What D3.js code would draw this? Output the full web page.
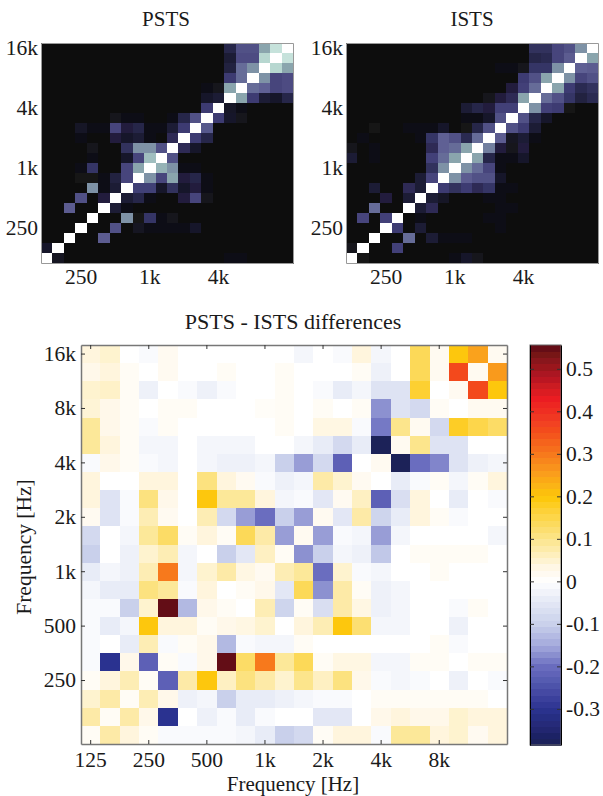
<!DOCTYPE html>
<html lang="en">
<head>
<meta charset="UTF-8">
<title>PSTS - ISTS differences</title>
<style>
    body { margin: 0; background: #fff; overflow: hidden; }
    text { font-family: 'Liberation Serif', serif; fill: #1a1a1a; }
    .axis line { stroke: #333; }
    .axis text { font-family: 'Liberation Serif', serif; font-size: 21.5px; fill: #1a1a1a; }
</style>
</head>
<body>
<svg id="chart" width="603" height="796">
    <defs><filter id="soft" x="-2%" y="-2%" width="104%" height="104%"><feGaussianBlur stdDeviation="0.45"/></filter></defs>
</svg>
<script src="https://d3js.org/d3.v7.min.js"></script>
<script>
// third octave bands, low to high
const bands = ["125","160","200","250","315","400","500","630","800","1k","1.25k","1.6k","2k","2.5k","3.15k","4k","5k","6.3k","8k","10k","12.5k","16k"];
const bandsTopDown = bands.slice().reverse();

const topXTicks = ["250","1k","4k"];
const topYTicks = ["16k","4k","1k","250"];
const diffXTicks = ["125","250","500","1k","2k","4k","8k"];
const diffYTicks = ["16k","8k","4k","2k","1k","500","250"];
const barTicks = [0.5,0.4,0.3,0.2,0.1,0,-0.1,-0.2,-0.3];

// rows run from 16k at the top down to 125 Hz
const pstsValues = [
 [0,0,0,0,0,0,0,0,0,0,0,0,0,0,0,0,.15,.35,.35,.6,.85,1],
 [0,0,0,0,0,0,0,0,0,0,0,0,0,0,0,0,.1,.33,.33,.8,1,.85],
 [0,0,0,0,0,0,0,0,0,0,0,0,0,0,0,0,.13,.45,.55,1,.8,.6],
 [0,0,0,0,0,0,0,0,0,0,0,0,0,0,0,0,.25,.45,1,.55,.3,.33],
 [0,0,0,0,0,0,0,0,0,0,0,0,0,0,.03,.05,.6,1,.45,.42,.3,.33],
 [0,0,0,0,0,0,0,0,0,0,0,0,0,0,.08,.1,1,.6,.25,.1,.08,.15],
 [0,0,0,0,0,0,0,0,0,0,0,0,0,0,.25,1,.07,.02,.01,.01,.01,.01],
 [0,0,0,0,.01,.01,.05,.03,.03,.01,.01,.02,.15,.35,1,.25,.08,.05,.01,0,0,0],
 [0,0,0,.07,.02,.02,.3,.12,.15,.03,.02,.1,.25,1,.38,0,.01,.01,0,0,0,0],
 [0,0,0,.02,.01,.01,.12,.08,.1,.02,.01,.18,1,.25,.15,0,0,0,0,0,0,0],
 [0,0,0,.01,.05,.01,.01,.2,.55,.55,.35,1,.18,.08,0,0,0,0,0,0,0,0],
 [0,0,0,.01,.03,.01,.01,.08,.3,.7,1,.35,.01,.01,0,0,0,0,0,0,0,0],
 [0,0,0,.02,.22,.01,.01,.3,.6,1,.65,.55,.03,.03,0,0,0,0,0,0,0,0],
 [0,0,0,.04,.04,.03,.13,.3,1,.55,.3,.6,.12,.15,.02,0,0,0,0,0,0,0],
 [0,0,0,.01,.55,.02,.1,1,.27,.27,.08,.2,.08,.12,.02,0,0,0,0,0,0,0],
 [0,0,0,.35,.01,.12,1,.1,.15,.02,.01,.01,.12,.3,.05,0,0,0,0,0,0,0],
 [0,0,.4,.01,.01,1,.1,.02,.01,.01,.01,.01,.01,.01,.01,0,0,0,0,0,0,0],
 [0,0,.01,.01,1,.01,.01,.55,.04,.22,.03,.05,.01,.01,.01,0,0,0,0,0,0,0],
 [0,0,0,1,.01,.01,.35,.01,.06,.03,.03,.03,.02,.08,.01,0,0,0,0,0,0,0],
 [0,0,1,.01,.01,.4,.01,0,0,0,0,0,0,0,0,0,0,0,0,0,0,0],
 [.08,1,.01,0,0,0,0,0,0,0,0,0,0,0,0,0,0,0,0,0,0,0],
 [1,.06,0,0,0,0,0,0,0,0,0,0,0,0,0,.01,.03,.03,.01,.01,.01,.01]
];

const istsValues = [
 [0,0,0,0,0,0,0,0,0,0,0,0,0,0,0,.01,.2,.2,.3,.35,.55,1],
 [0,0,0,0,0,0,0,0,0,0,0,0,0,0,0,.01,.15,.17,.3,.4,1,.6],
 [0,0,0,0,0,0,0,0,0,0,0,0,0,.03,.03,.05,.22,.22,.55,1,.42,.4],
 [0,0,0,0,0,0,0,0,0,0,0,0,0,0,.01,.25,.35,.6,1,.55,.3,.35],
 [0,0,0,0,0,0,0,0,0,0,0,0,0,.01,.12,.28,.45,1,.6,.25,.17,.2],
 [0,0,0,0,0,0,0,0,0,0,0,0,.05,.12,.18,.6,1,.45,.35,.22,.13,.17],
 [0,0,0,0,0,.01,.01,.01,.01,.01,.1,.15,.12,.28,.28,1,.55,.28,.25,.04,.01,.01],
 [0,0,0,0,0,0,.01,.01,.01,.01,.03,.03,.08,.35,1,.35,.15,.08,.01,.01,0,0],
 [0,0,.04,.01,.01,.02,.02,.02,.08,.01,.04,.15,.35,1,.35,.25,.1,0,0,0,0,0],
 [0,.03,0,.01,0,0,.03,.22,.42,.35,.17,.45,1,.4,.06,.1,.03,0,0,0,0,0],
 [.05,0,.02,.01,0,0,.01,.18,.42,.45,.6,1,.5,.12,.05,.12,0,0,0,0,0,0],
 [.1,0,.02,.01,0,0,.01,.28,.45,.6,1,.6,.15,.03,.03,.08,0,0,0,0,0,0],
 [.01,0,.01,.01,0,0,.01,.2,.55,1,.55,.45,.3,.03,.01,.01,0,0,0,0,0,0],
 [0,0,.01,.01,0,0,.1,.3,1,.55,.4,.35,.35,.08,.01,.01,0,0,0,0,0,0],
 [0,0,.1,.01,0,.18,.1,1,.25,.2,.25,.18,.22,.03,.02,.01,.01,0,0,0,0,0],
 [0,0,.01,.12,0,.1,1,.1,.07,.01,.01,.01,.02,.03,.01,.01,.01,0,0,0,0,0],
 [0,0,.45,0,0,1,.1,.18,.01,.01,.01,.01,.01,.03,.02,.01,.01,0,0,0,0,0],
 [0,.3,0,.28,1,0,.02,.01,.01,.01,.01,.01,.02,.02,.01,.01,.01,0,0,0,0,0],
 [0,0,0,1,.25,0,.1,.01,.01,.01,.01,.01,.01,.02,.01,.01,0,0,0,0,0,0],
 [0,0,1,0,0,.45,0,.1,.02,.02,.02,.01,.01,.01,.01,0,0,0,0,0,0,0],
 [.05,1,0,0,.28,0,0,.01,.01,.01,.01,.01,.01,.01,0,0,0,0,0,0,0,0],
 [1,.04,0,0,.01,.01,.01,.01,.01,.03,.08,.05,.01,.01,.01,0,.01,.01,.01,.01,.01,.01]
];

const diffValues = [
 [.04,.05,0,-.01,.02,0,0,0,0,0,0,-.02,0,-.01,.04,-.02,0,.14,.02,.2,.25,.02],
 [.03,.04,.015,0,.02,0,0,.015,0,0,.015,0,0,0,.015,-.03,0,.14,.02,.36,.02,.26],
 [.05,.055,.015,-.03,0,-.01,-.03,-.01,0,0,.015,0,-.01,-.04,-.02,-.06,-.06,.17,0,.02,.36,.2],
 [.045,.03,.015,0,.015,.015,0,0,0,.01,.015,0,.015,0,.015,-.17,-.06,-.08,.015,0,.02,.02],
 [.09,.03,.015,-.01,.015,0,0,0,0,0,.015,0,.035,.035,-.01,-.19,.1,.02,-.08,.18,.15,.13],
 [.09,.04,.015,-.02,-.02,0,-.02,-.02,-.02,0,0,-.02,-.04,-.08,-.04,-.38,.02,.1,-.06,-.06,0,0],
 [-.01,.03,.015,-.01,-.02,0,-.02,-.03,-.03,-.02,-.1,-.16,-.08,-.22,0,.02,-.38,-.2,-.18,-.06,-.03,-.02],
 [.04,0,0,.04,.04,0,.11,.04,.02,-.01,-.03,-.02,.08,.05,.02,0,-.04,-.01,.015,-.02,.015,.04],
 [.04,-.06,-.01,.11,.03,0,.2,.09,.09,.04,-.02,-.01,-.05,.02,.06,-.22,-.07,.04,0,-.04,0,-.01],
 [.02,-.06,-.01,.07,.02,0,.07,-.08,-.16,-.2,-.1,-.16,.02,-.05,.08,-.09,-.04,.04,.015,-.01,0,0],
 [-.08,0,-.02,.09,.13,.015,.04,.015,.14,.08,-.16,.02,-.16,-.01,-.02,-.16,-.02,0,0,0,0,-.02],
 [-.1,0,-.03,.05,.07,-.02,0,-.1,-.05,.06,.015,-.17,-.1,-.02,-.03,-.11,0,.015,.015,.015,.015,0],
 [-.04,-.02,-.03,.07,.3,-.02,.05,.08,.035,.02,.07,.09,-.2,.05,-.01,-.02,0,0,.015,0,0,0],
 [-.02,-.04,-.04,.11,.09,-.01,.04,0,.015,.03,-.05,.14,-.17,.08,.015,-.03,-.02,0,0,0,0,0],
 [-.01,-.01,-.1,.05,.55,-.13,.03,.015,0,.07,-.09,.015,-.07,.08,.035,-.03,-.02,0,0,-.01,.015,0],
 [-.01,-.04,-.02,.2,.04,.04,.015,.03,.035,.05,0,.04,.07,.2,.12,-.02,-.02,0,0,-.03,0,0],
 [-.01,0,-.04,.07,-.01,.015,.03,-.13,-.01,-.02,-.02,.015,0,0,0,0,0,0,.015,-.01,0,0],
 [-.01,-.3,.03,-.22,.015,-.01,.03,.55,.13,.3,.09,.14,.015,.035,.035,-.02,-.02,.015,.015,0,.015,.015],
 [.015,.04,.07,.015,-.22,.08,.2,.06,.11,.08,.05,.1,.06,.11,.03,-.01,-.02,-.01,0,-.03,0,-.01],
 [.05,.08,.015,.07,.03,-.03,-.02,-.1,-.04,-.04,-.03,-.02,-.01,-.01,0,.015,.015,.015,.015,.015,.015,0],
 [.08,.015,.08,.03,-.3,0,-.03,-.01,-.04,-.01,0,0,-.05,-.05,0,.03,.04,.03,.03,.05,.04,.04],
 [.015,.08,.04,.015,-.01,-.01,-.01,-.01,-.02,-.04,-.1,-.08,.015,.04,.04,-.01,.09,.09,.04,.05,.02,.04]
];

const svg = d3.select("#chart");

// black through purple and teal to white for the two top panels
const boneColor = d3.scaleLinear()
    .domain([0, 0.03, 0.08, 0.25, 0.42, 0.6, 0.82, 1])
    .range(["#0f0f0f", "#111114", "#17172c", "#3d3a72", "#5f6194", "#8aa5ad", "#bbdcd4", "#ffffff"]);

const diffDomain = [-0.385, 0.556];
const diffStops = [
    [-0.385, "#1b2056"], [-0.3, "#2b3190"], [-0.2, "#6a6dbf"], [-0.15, "#a3a9dc"],
    [-0.1, "#c9d0eb"], [-0.04, "#e8ecf7"], [0, "#ffffff"], [0.03, "#fff8ea"],
    [0.1, "#fce58c"], [0.2, "#fdc70c"], [0.25, "#faa21a"], [0.3, "#f7791a"],
    [0.35, "#f4511e"], [0.43, "#ec1c24"], [0.5, "#a01820"], [0.556, "#5c0f14"]
];
const diffColor = d3.scaleLinear()
    .domain(diffStops.map(d => d[0]))
    .range(diffStops.map(d => d[1]))
    .clamp(true);

function drawMatrix(values, box, color, xTicks, yTicks) {
    const x = d3.scaleBand().domain(bands).range([box.left, box.right]);
    const y = d3.scaleBand().domain(bandsTopDown).range([box.top, box.bottom]);
    const g = svg.append("g");
    const cells = g.append("g").attr("filter", "url(#soft)");

    values.forEach((row, i) => {
        cells.selectAll(null)
            .data(row)
          .enter().append("rect")
            .attr("x", (d, j) => x(bands[j]))
            .attr("y", y(bandsTopDown[i]))
            .attr("width", x.bandwidth() + 0.5)
            .attr("height", y.bandwidth() + 0.5)
            .attr("shape-rendering", "crispEdges")
            .attr("fill", d => color(d));
    });

    // matlab style box, ticks pointing in on all sides
    const tick = box.tick;
    const axes = [
        g.append("g").attr("transform", `translate(0,${box.bottom})`)
            .call(d3.axisBottom(x).tickValues(xTicks).tickSizeInner(-tick).tickSizeOuter(0).tickPadding(box.padX)),
        g.append("g").attr("transform", `translate(0,${box.top})`)
            .call(d3.axisTop(x).tickValues(xTicks).tickSizeInner(-tick).tickSizeOuter(0).tickFormat("")),
        g.append("g").attr("transform", `translate(${box.left},0)`)
            .call(d3.axisLeft(y).tickValues(yTicks).tickSizeInner(-tick).tickSizeOuter(0).tickPadding(box.padY)),
        g.append("g").attr("transform", `translate(${box.right},0)`)
            .call(d3.axisRight(y).tickValues(yTicks).tickSizeInner(-tick).tickSizeOuter(0).tickFormat(""))
    ];
    axes.forEach(a => {
        a.attr("class", "axis");
        a.select(".domain").attr("stroke", box.frame).attr("stroke-width", box.frameWidth);
    });
}

drawMatrix(pstsValues, {left: 41, right: 293, top: 43, bottom: 263, tick: 0, padX: 6, padY: 3, frame: "#999", frameWidth: 1}, boneColor, topXTicks, topYTicks);
drawMatrix(istsValues, {left: 346, right: 598, top: 43, bottom: 263, tick: 0, padX: 6, padY: 3, frame: "#999", frameWidth: 1}, boneColor, topXTicks, topYTicks);
drawMatrix(diffValues, {left: 81, right: 507, top: 345, bottom: 744, tick: 4, padX: 8, padY: 5, frame: "#777", frameWidth: 1.5}, diffColor, diffXTicks, diffYTicks);

// colorbar, 64 flat levels like the matlab one
const barBox = {left: 530, right: 561, top: 345, bottom: 745};
const barY = d3.scaleLinear().domain(diffDomain).range([barBox.bottom, barBox.top]);
const levels = d3.range(64);
const levelHeight = (barBox.bottom - barBox.top) / levels.length;
svg.append("g").attr("filter", "url(#soft)").selectAll("rect")
    .data(levels)
  .enter().append("rect")
    .attr("x", barBox.left)
    .attr("y", d => barBox.bottom - (d + 1) * levelHeight)
    .attr("width", barBox.right - barBox.left)
    .attr("height", levelHeight + 0.5)
    .attr("shape-rendering", "crispEdges")
    .attr("fill", d => diffColor(barY.invert(barBox.bottom - (d + 0.5) * levelHeight)));
svg.append("rect")
    .attr("x", barBox.left).attr("y", barBox.top)
    .attr("width", barBox.right - barBox.left).attr("height", barBox.bottom - barBox.top)
    .attr("fill", "none").attr("stroke", "#666");
svg.append("g").attr("class", "axis")
    .attr("transform", `translate(${barBox.right},0)`)
    .call(d3.axisRight(barY).tickValues(barTicks).tickFormat(d => d).tickSizeInner(-4).tickSizeOuter(0).tickPadding(5));
svg.append("g").attr("class", "axis")
    .attr("transform", `translate(${barBox.left},0)`)
    .call(d3.axisLeft(barY).tickValues(barTicks).tickFormat("").tickSizeInner(-4).tickSizeOuter(0));

// titles and axis labels
function label(x, y, str, size, rotate) {
    svg.append("text")
        .attr("transform", `translate(${x},${y})` + (rotate ? " rotate(-90)" : ""))
        .attr("text-anchor", "middle")
        .attr("font-size", size)
        .text(str);
}
label(166, 26, "PSTS", 21);
label(472, 26, "ISTS", 21);
label(293, 329, "PSTS - ISTS differences", 22);
label(293, 791, "Frequency [Hz]", 21);
label(31, 547, "Frequency [Hz]", 21.5, true);
</script>
</body>
</html>
